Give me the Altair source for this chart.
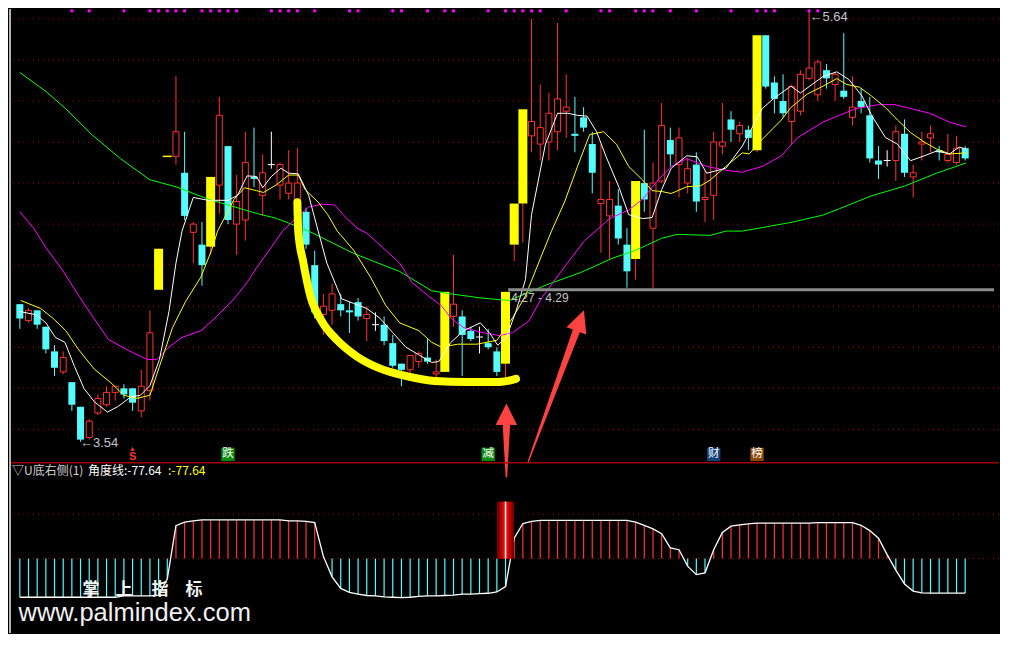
import altair as alt
import pandas as pd

# ---------------- candle data ----------------
idx = list(range(110))
kind = ['c','r','c','c','c','r','c','c','r','r',
        'r','r','c','c','r','r','y','y','r','c',
        'r','c','y','r','c','r','r','c','r','w',
        'r','r','r','c','c','r','r','c','c','c',
        'r','w','c','c','c','r','r','c','r','y',
        'r','c','c','w','c','c','y','y','y','r',
        'r','r','r','r','c','c','c','r','r','c',
        'c','y','c','r','r','c','r','r','c','r',
        'r','r','c','r','c','y','c','c','c','r',
        'r','r','r','c','r','c','r','c','c','c',
        'w','r','c','r','r','r','c','r','r','c']
opens = [4.21,4.13,4.18,4.10,3.98,3.88,3.83,3.71,3.56,3.68,
         3.72,3.78,3.80,3.80,3.69,3.79,4.28,4.93,4.93,4.85,
         4.56,4.50,4.49,4.79,4.98,4.60,4.62,4.83,4.74,4.89,
         4.79,4.75,4.72,4.66,4.40,4.16,4.18,4.21,4.18,4.22,
         4.14,4.11,4.11,4.02,3.92,3.89,3.93,3.95,3.87,3.88,
         4.15,4.15,4.08,4.05,4.02,3.98,3.92,4.50,4.70,5.03,
         4.99,5.00,5.05,5.15,5.04,5.12,4.99,4.70,4.64,4.69,
         4.50,4.43,4.80,4.58,4.81,5.01,4.89,4.80,4.89,4.72,
         4.74,4.98,5.11,5.04,5.06,4.96,5.52,5.29,5.20,5.10,
         5.15,5.31,5.23,5.35,5.28,5.25,5.12,5.20,5.13,4.91,
         4.91,4.91,5.04,4.83,4.99,5.02,4.96,4.91,4.90,4.97]
highs = [4.21,4.19,4.18,4.10,4.01,3.98,3.83,3.71,3.65,3.77,
         3.81,3.81,3.82,3.80,3.89,4.18,4.48,4.93,5.32,5.05,
         4.61,4.61,4.83,5.22,4.98,4.84,5.05,5.07,4.94,5.05,
         4.90,4.96,4.97,4.68,4.47,4.26,4.31,4.26,4.22,4.24,
         4.20,4.17,4.15,4.06,3.92,3.96,3.98,4.04,3.94,4.27,
         4.45,4.18,4.10,4.10,4.09,4.00,4.27,4.70,5.16,5.60,
         5.28,5.24,5.58,5.33,5.22,5.17,5.05,4.99,4.81,4.77,
         4.58,4.81,5.06,4.90,5.19,5.07,5.07,4.92,4.95,4.86,
         5.05,5.19,5.15,5.10,5.08,5.52,5.52,5.32,5.33,5.28,
         5.35,5.64,5.40,5.38,5.34,5.53,5.32,5.26,5.22,4.98,
         4.96,5.08,5.11,4.89,5.05,5.08,4.98,5.04,5.03,4.98]
lows = [4.09,4.12,4.09,3.97,3.86,3.87,3.69,3.54,3.55,3.67,
        3.71,3.74,3.75,3.69,3.66,3.74,4.28,4.93,4.89,4.62,
        4.41,4.30,4.45,4.65,4.60,4.45,4.52,4.78,4.64,4.87,
        4.72,4.72,4.70,4.48,4.14,4.06,4.11,4.15,4.07,4.13,
        4.03,4.08,4.01,3.90,3.81,3.87,3.90,3.92,3.85,3.88,
        4.10,3.86,4.03,3.97,3.99,3.86,3.85,4.42,4.51,4.95,
        4.91,4.91,4.96,5.02,4.95,5.05,4.75,4.46,4.43,4.50,
        4.29,4.33,4.66,4.29,4.80,4.88,4.73,4.75,4.66,4.61,
        4.62,4.94,5.00,5.00,4.96,4.95,5.26,5.14,5.12,4.99,
        5.13,5.30,5.20,5.26,5.20,5.21,5.08,5.14,4.90,4.82,
        4.88,4.81,4.83,4.73,4.91,4.95,4.91,4.90,4.89,4.91]
closes = [4.14,4.18,4.11,3.99,3.90,3.95,3.72,3.55,3.64,3.75,
          3.78,3.81,3.77,3.73,3.81,4.07,4.48,4.93,5.05,4.64,
          4.60,4.40,4.83,5.13,4.62,4.71,4.90,4.82,4.85,4.89,
          4.89,4.80,4.80,4.50,4.17,4.20,4.26,4.18,4.17,4.15,
          4.16,4.11,4.03,3.91,3.89,3.96,3.97,3.93,3.88,4.27,
          4.21,4.06,4.04,4.05,4.00,3.88,4.27,4.70,5.16,5.10,
          5.07,5.14,5.21,5.17,5.03,5.07,4.85,4.72,4.72,4.53,
          4.37,4.81,4.72,4.80,5.08,4.94,5.02,4.87,4.71,4.73,
          5.00,5.00,5.06,5.08,5.02,5.52,5.27,5.21,5.14,5.27,
          5.33,5.36,5.39,5.31,5.33,5.22,5.17,5.17,4.92,4.89,
          4.91,5.05,4.85,4.85,5.00,5.04,4.95,4.94,4.97,4.92]

# ---------------- moving-average lines ----------------
ma5_x = [0,1.9,3.0,4.1,5.2,6.3,7.4,8.6,10.1,11.3,12.8,13.9,15.0,16.1,17.2,18.0,18.7,20.0,21.7,24.0,
         25.1,26.2,27.3,28.0,29.0,30.1,31.0,32.1,33.3,34.4,35.4,37.1,38.5,40.0,41.5,43.0,44.5,46.0,47.5,48.3,
         49.7,51.2,53.1,54.2,55.1,56.1,57.2,58.3,59.0,60.6,62.0,63.2,64.3,65.4,66.5,67.6,69.1,70.2,71.8,72.9,
         74.0,75.1,76.9,78.1,79.2,81.4,83.3,85.6,87.0,88.9,90.0,92.6,94.2,95.6,97.1,98.2,99.8,101.2,102.7,104.3,
         105.7,107.2,108.3,109.1]
ma5_y = [4.174,4.158,4.119,4.048,4.024,3.907,3.799,3.734,3.684,3.711,3.758,3.766,3.813,3.940,4.175,4.410,4.566,4.730,4.716,4.716,
         4.740,4.835,4.832,4.777,4.832,4.872,4.848,4.845,4.740,4.566,4.410,4.236,4.213,4.189,4.142,4.071,4.001,3.963,3.926,3.930,
         4.024,4.081,4.119,4.067,4.010,4.048,4.175,4.330,4.646,4.989,5.140,5.140,5.130,5.126,5.050,4.928,4.777,4.646,4.627,4.632,
         4.768,4.872,4.933,4.928,4.848,4.872,4.980,5.163,5.215,5.272,5.239,5.319,5.342,5.304,5.224,5.130,5.022,4.989,4.909,4.933,
         4.956,4.942,4.975,4.966]
ma10_x = [0.1,2.4,3.8,5.3,6.8,8.6,10.5,12.0,13.5,15.0,16.1,17.6,19.1,20.9,22.1,22.8,24.7,25.9,27.3,28.1,
          29.6,31.0,32.1,32.9,34.4,35.5,36.6,38.5,40.4,42.2,43.8,46.0,47.5,48.6,50.5,52.7,55.0,56.8,58.3,59.8,
          61.3,62.8,64.3,65.7,67.3,68.8,70.2,71.8,72.9,74.0,75.1,76.9,78.5,79.6,81.4,83.3,84.1,85.6,87.8,88.9,
          90.8,92.6,94.2,95.3,96.8,98.2,99.8,101.2,102.7,104.3,105.7,107.2,109.1]
ma10_y = [4.228,4.189,4.142,4.081,3.987,3.893,3.827,3.766,3.751,3.766,3.907,4.095,4.222,4.344,4.472,4.566,4.721,4.777,4.763,4.754,
          4.792,4.839,4.839,4.768,4.707,4.646,4.566,4.472,4.344,4.203,4.119,4.081,4.024,4.001,4.015,4.015,4.034,4.142,4.250,4.410,
          4.566,4.707,4.881,5.036,5.050,4.989,4.881,4.815,4.763,4.759,4.749,4.782,4.787,4.815,4.881,4.947,4.942,5.013,5.107,5.168,
          5.234,5.272,5.309,5.281,5.267,5.224,5.168,5.107,5.046,4.999,4.966,4.942,4.947]
ma20_x = [0,1.6,3.0,4.9,6.8,8.3,10.2,12.4,14.7,15.8,17.2,18.7,20.9,22.5,24.7,26.2,27.3,30.3,31.8,33.3,
          34.8,36.3,37.7,38.9,40.0,42.2,43.8,45.2,47.1,48.6,49.7,51.2,53.4,55.3,56.8,58.7,60.1,62.8,65.1,68.0,
          70.2,71.8,73.6,75.1,76.9,79.2,81.4,83.3,85.6,87.8,89.7,92.6,94.5,96.4,99.0,100.9,103.1,104.9,107.2,109.1]
ma20_y = [4.660,4.580,4.486,4.377,4.250,4.156,4.039,3.987,3.940,3.940,4.001,4.048,4.081,4.142,4.236,4.316,4.387,4.566,4.627,4.683,
          4.697,4.693,4.627,4.580,4.556,4.472,4.410,4.316,4.250,4.203,4.142,4.095,4.071,4.057,4.071,4.128,4.236,4.392,4.519,4.627,
          4.669,4.721,4.815,4.881,4.919,4.881,4.862,4.853,4.881,4.933,5.022,5.097,5.130,5.163,5.182,5.182,5.159,5.140,5.097,5.074]
ma60_x = [0,3.1,5.3,8.3,11.6,15.0,18.0,21.7,27.3,29.6,31.0,33.3,38.5,43.8,47.5,49.7,53.4,56.4,58.7,60.9,
          64.6,68.4,71.0,74.0,75.8,79.6,81.4,83.3,88.9,92.6,94.5,98.2,102.0,105.7,109.1]
ma60_y = [5.339,5.243,5.162,5.036,4.919,4.816,4.782,4.722,4.652,4.628,4.605,4.566,4.457,4.369,4.275,4.260,4.239,4.228,4.268,4.307,
          4.363,4.435,4.472,4.531,4.550,4.545,4.566,4.566,4.608,4.644,4.675,4.738,4.785,4.848,4.898]

# hand-drawn U curve annotation
u_x = [32.0,32.1,32.7,33.5,34.8,36.6,38.9,41.5,44.1,47.8,51.6,55.3,57.2]
u_y = [4.707,4.566,4.410,4.250,4.128,4.034,3.954,3.897,3.864,3.836,3.831,3.831,3.846]

price_grid = [3.6,3.8,4.0,4.2,4.4,4.6,4.8,5.0,5.2,5.4,5.6]
marker_idx = [6,8,12,15,16,17,18,19,21,22,23,24,25,29,30,31,32,34,38,39,43,44,47,49,50,54,
              56,57,58,59,60,63,67,68,71,72,73,75,78,82,85,86,87,91,92]
range_line_start = 56.3
range_line_price = 4.28
range_label = '4.27 - 4.29'
extreme_x = [6.94, 91.04]
extreme_y = [3.535, 5.610]
extreme_t = ['←3.54', '←5.64']
sig_idx = [24, 54, 80, 85]
sig_txt = ['跌', '减', '财', '榜']
sig_kind = ['g', 'g', 'b', 'o']

# ---------------- indicator (lower panel) ----------------
ind = [-87,-87,-87,-87,-87,-87,-87,-87,-87,-87,-87,-87,-84,-84,-84,-84,-82,-46,74,82,
       85,87,87,87,87,87,87,87,87,87,87,85,85,84,81,5,-41,-67,-76,-80,
       -83,-84,-86,-87,-88,-87,-85,-84,-84,-83,-82,-80,-80,-79,-78,-75,-63,46,79,84,
       86,86,86,86,86,86,86,86,86,86,86,82,75,67,56,24,20,-17,-36,-32,
       20,59,73,76,78,80,80,80,80,80,80,80,81,81,81,81,81,75,63,46,
       9,-26,-57,-73,-77,-77.5,-77.5,-77.5,-77.5,-77.64]
ind_grid = [0, 100]
signal_idx = [56]
signal_val = [128]

# ---------------- styles ----------------
RED = '#FF3232'
CYAN = '#54FCFC'
YEL = '#FFFF00'
WHITE = '#FFFFFF'
MAG = '#FF00FF'
GRN = '#00FF00'
GRID = '#8a0000'
ARROW = '#FF4343'
CJK = 'Noto Sans CJK SC'
LAT = 'Liberation Sans'

W, H1, H2 = 990, 453, 171
xs = alt.Scale(domain=[-0.672, 112.32], nice=False, zero=False)
ys = alt.Scale(domain=[3.441, 5.648], nice=False, zero=False)
vs = alt.Scale(domain=[-167.4, 217.4], nice=False, zero=False)


def X(f):
    return alt.X(f, type='quantitative', scale=xs, axis=None)


def Y(f):
    return alt.Y(f, type='quantitative', scale=ys, axis=None)


def V(f):
    return alt.Y(f, type='quantitative', scale=vs, axis=None)


one = pd.DataFrame({'a': [0]})

k = pd.DataFrame({'i': idx, 'k': kind, 'o': opens, 'h': highs, 'l': lows, 'c': closes})
base = alt.Chart(k)

grid = alt.Chart(pd.DataFrame({'g': price_grid})).mark_rule(
    color=GRID, strokeDash=[1, 4], strokeWidth=1).encode(y=Y('g'))

wick_r = base.transform_filter("(datum.k == 'r' || datum.k == 'y') && datum.h > datum.l").mark_rule(
    color=RED, strokeWidth=1).encode(x=X('i'), y=Y('l'), y2='h')
wick_c = base.transform_filter("datum.k == 'c'").mark_rule(
    color=CYAN, strokeWidth=1).encode(x=X('i'), y=Y('l'), y2='h')
wick_w = base.transform_filter("datum.k == 'w'").mark_rule(
    color=WHITE, strokeWidth=1).encode(x=X('i'), y=Y('l'), y2='h')

body_r = base.transform_filter("datum.k == 'r'").mark_bar(
    size=6, fill='black', stroke=RED, strokeWidth=1).encode(x=X('i'), y=Y('o'), y2='c')
body_c = base.transform_filter("datum.k == 'c'").mark_bar(
    size=7, color=CYAN).encode(x=X('i'), y=Y('o'), y2='c')
body_y = base.transform_filter("datum.k == 'y' && datum.o != datum.c").mark_bar(
    size=9, color=YEL).encode(x=X('i'), y=Y('o'), y2='c')
tick_w = base.transform_filter("datum.k == 'w'").mark_tick(
    orient='horizontal', size=7, thickness=1, color=WHITE, opacity=1).encode(x=X('i'), y=Y('o'))
tick_y = base.transform_filter("datum.k == 'y' && datum.o == datum.c").mark_tick(
    orient='horizontal', size=9, thickness=1.5, color=YEL, opacity=1).encode(x=X('i'), y=Y('o'))


def ma(xv, yv, col):
    return alt.Chart(pd.DataFrame({'x': xv, 'y': yv})).mark_line(
        color=col, strokeWidth=1).encode(x=X('x'), y=Y('y'))


ucurve = alt.Chart(pd.DataFrame({'x': u_x, 'y': u_y})).mark_line(
    color=YEL, strokeWidth=8, strokeCap='round', strokeJoin='round', interpolate='monotone'
).encode(x=X('x'), y=Y('y'))

markers = alt.Chart(pd.DataFrame({'i': marker_idx})).transform_calculate(y='5.639').mark_square(
    size=9, color=MAG, opacity=1).encode(x=X('i'), y=Y('y'))

rng_line = alt.Chart(one).transform_calculate(
    x1=str(range_line_start), x2='112.32', y=str(range_line_price)).mark_rule(
    color='#8c8c8c', strokeWidth=3).encode(x=X('x1'), x2='x2', y=Y('y'))
rng_text = alt.Chart(pd.DataFrame({'t': [range_label]})).transform_calculate(
    x='56.66', y='4.241').mark_text(align='left', baseline='middle', fontSize=12, font=LAT,
                                     color='#c4c4c4').encode(x=X('x'), y=Y('y'), text='t:N')
ext_text = alt.Chart(pd.DataFrame({'x': extreme_x, 'y': extreme_y, 't': extreme_t})).mark_text(
    align='left', baseline='middle', fontSize=13, font=LAT, color='#c4c4c4').encode(
    x=X('x'), y=Y('y'), text='t:N')

sig = pd.DataFrame({'i': sig_idx, 't': sig_txt, 'bg': sig_kind})
sig_box = alt.Chart(sig).transform_calculate(y='3.478').mark_square(size=180, opacity=1).encode(
    x=X('i'), y=Y('y'),
    color=alt.Color('bg:N', scale=alt.Scale(domain=['g', 'b', 'o'],
                                            range=['#0b8a0b', '#153f7a', '#8a4800']), legend=None))
sig_txt_l = alt.Chart(sig).transform_calculate(y='3.478').mark_text(
    fontSize=11.5, font=CJK, color=WHITE, baseline='middle').encode(x=X('i'), y=Y('y'), text='t:N')
s_txt = alt.Chart(pd.DataFrame({'i': [13]})).transform_calculate(y='3.465').mark_text(
    text='S', fontSize=11, fontWeight='bold', font=LAT, color=RED, baseline='middle').encode(
    x=X('i'), y=Y('y'))
s_tri = alt.Chart(pd.DataFrame({'i': [13]})).transform_calculate(y='3.505').mark_point(
    shape='triangle-up', filled=True, size=18, color=RED, opacity=1).encode(x=X('i'), y=Y('y'))

VPATH = 'M0,-1L0.29,-0.42L0.1,-0.42L0.02,1L-0.02,1L-0.1,-0.42L-0.29,-0.42Z'
DPATH = 'M0,-1L0.13,-0.73L0.045,-0.73L0.008,1L-0.008,1L-0.045,-0.73L-0.13,-0.73Z'
arr_v = alt.Chart(one).transform_calculate(x='56.1', y='3.546').mark_point(
    shape=VPATH, filled=True, size=5476, color=ARROW, opacity=1, strokeWidth=0).encode(x=X('x'), y=Y('y'))
arr_d = alt.Chart(one).transform_calculate(x='61.8', y='3.808').mark_point(
    shape=DPATH, filled=True, size=26540, angle=20.2, color=ARROW, opacity=1, strokeWidth=0).encode(
    x=X('x'), y=Y('y'))

left_top = alt.Chart(one).mark_rule(color='#b4b4b4', strokeWidth=2).encode(
    x=alt.value(1), y=alt.value(0), y2=alt.value(H1))

top = alt.layer(
    grid, wick_r, wick_c, wick_w, body_r, body_c, body_y, tick_w, tick_y,
    ma(ma60_x, ma60_y, GRN), ma(ma20_x, ma20_y, MAG), ma(ma10_x, ma10_y, YEL), ma(ma5_x, ma5_y, WHITE),
    ucurve, rng_line, rng_text, ext_text, markers, sig_box, sig_txt_l, s_tri, s_txt,
    arr_v, arr_d, left_top
).properties(width=W, height=H1)

# ---------------- lower panel ----------------
ind_df = pd.DataFrame({'i': idx, 'v': ind})
grid2 = alt.Chart(pd.DataFrame({'g': ind_grid})).mark_rule(
    color=GRID, strokeDash=[1, 4], strokeWidth=1).encode(y=V('g'))
sticks = alt.Chart(ind_df).transform_calculate(
    sg="datum.v > 0 ? 'p' : 'n'", z='0').mark_rule(strokeWidth=1.2).encode(
    x=X('i'), y=V('v'), y2='z:Q',
    color=alt.Color('sg:N', scale=alt.Scale(domain=['p', 'n'], range=[RED, CYAN]), legend=None))
ind_line = alt.Chart(ind_df).mark_line(color=WHITE, strokeWidth=1.3).encode(x=X('i'), y=V('v'))

sigd = alt.Chart(pd.DataFrame({'i': signal_idx, 'v': signal_val})).transform_calculate(z='0')
sig1 = sigd.mark_bar(size=17, color='#7a0000').encode(x=X('i'), y=V('v'), y2='z:Q')
sig2 = sigd.mark_bar(size=12, color='#b80000').encode(x=X('i'), y=V('v'), y2='z:Q')
sig3 = sigd.mark_bar(size=6, color='#e80a0a').encode(x=X('i'), y=V('v'), y2='z:Q')
sig4 = sigd.mark_rule(color=WHITE, strokeWidth=1.5).encode(x=X('i'), y=V('v'), y2='z:Q')

sep = alt.Chart(one).mark_rule(color='#a00000', strokeWidth=1.5).encode(
    x=alt.value(0), x2=alt.value(W), y=alt.value(0.75))
left_bot = alt.Chart(one).mark_rule(color='#b4b4b4', strokeWidth=2).encode(
    x=alt.value(1), y=alt.value(0), y2=alt.value(H2))


def label(t, x, y, col, size, fnt=CJK, weight='normal', align='left'):
    return alt.Chart(pd.DataFrame({'t': [t]})).mark_text(
        align=align, baseline='middle', fontSize=size, font=fnt, color=col, fontWeight=weight
    ).encode(text='t:N', x=alt.value(x), y=alt.value(y))


titles = [
    label('▽U底右侧(1)', 3, 9, '#d0d0d0', 12),
    label('角度线:-77.64', 79, 9, WHITE, 12),
    label(':-77.64', 159, 9, YEL, 12),
]
wm = [label(ch, x, 127.5, '#f4f4f4', 17, CJK, 'bold', 'center')
      for ch, x in zip(['掌', '上', '指', '标'], [82, 115, 151, 185])]
wm.append(label('www.palmindex.com', 9.5, 151, '#f0f0f0', 25.5, LAT))

bottom = alt.layer(
    grid2, sticks, ind_line, sig1, sig2, sig3, sig4, sep, left_bot, *titles, *wm
).properties(width=W, height=H2)

chart = alt.vconcat(top, bottom, spacing=0, bounds='flush').resolve_scale(
    x='independent', y='independent', color='independent'
).properties(padding=0).configure(background='black').configure_view(stroke=None)

chart.save('out.html', embed_options={'renderer': 'svg', 'actions': False})
